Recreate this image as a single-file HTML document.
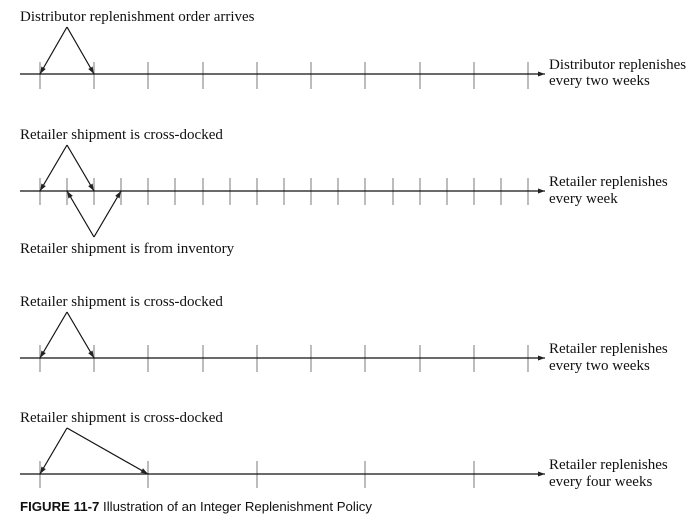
<!DOCTYPE html>
<html><head><style>
body{margin:0;background:#fff;}
svg text{font-family:"Liberation Serif",serif;font-size:15px;fill:#111;}
</style></head><body>
<svg width="693" height="525" xmlns="http://www.w3.org/2000/svg">
<defs>
<marker id="a" viewBox="0 0 10 10" refX="10" refY="5" markerWidth="6" markerHeight="6" orient="auto-start-reverse"><path d="M0,1.5 L10,5 L0,8.5 z" fill="#222"/></marker>
</defs>
<g stroke="#999" stroke-width="1.3">
<path d="M40,62V89M94,62V89M148,62V89M203,62V89M257,62V89M311,62V89M365,62V89M420,62V89M474,62V89M528,62V89"/>
<path d="M40,178V205M67,178V205M94,178V205M121,178V205M148,178V205M175,178V205M203,178V205M230,178V205M257,178V205M284,178V205M311,178V205M338,178V205M365,178V205M393,178V205M420,178V205M447,178V205M474,178V205M501,178V205M528,178V205"/>
<path d="M40,345V372M94,345V372M148,345V372M203,345V372M257,345V372M311,345V372M365,345V372M420,345V372M474,345V372M528,345V372"/>
<path d="M40,461V488M148,461V488M257,461V488M365,461V488M474,461V488"/>
</g>
<g stroke="#111" stroke-width="1.2" fill="none">
<line x1="20" y1="74" x2="545" y2="74" marker-end="url(#a)"/>
<line x1="20" y1="191" x2="545" y2="191" marker-end="url(#a)"/>
<line x1="20" y1="358" x2="545" y2="358" marker-end="url(#a)"/>
<line x1="20" y1="474" x2="545" y2="474" marker-end="url(#a)"/>
<line x1="67" y1="27" x2="40" y2="74" marker-end="url(#a)"/>
<line x1="67" y1="27" x2="94" y2="74" marker-end="url(#a)"/>
<line x1="67" y1="145" x2="40" y2="191" marker-end="url(#a)"/>
<line x1="67" y1="145" x2="94" y2="191" marker-end="url(#a)"/>
<line x1="94" y1="237" x2="67" y2="191" marker-end="url(#a)"/>
<line x1="94" y1="237" x2="121" y2="191" marker-end="url(#a)"/>
<line x1="67" y1="312" x2="40" y2="358" marker-end="url(#a)"/>
<line x1="67" y1="312" x2="94" y2="358" marker-end="url(#a)"/>
<line x1="67" y1="428" x2="40" y2="474" marker-end="url(#a)"/>
<line x1="67" y1="428" x2="148" y2="474" marker-end="url(#a)"/>
</g>
<text x="20" y="21">Distributor replenishment order arrives</text>
<text x="549" y="69">Distributor replenishes</text>
<text x="549" y="85">every two weeks</text>
<text x="20" y="139">Retailer shipment is cross-docked</text>
<text x="549" y="186">Retailer replenishes</text>
<text x="549" y="203">every week</text>
<text x="20" y="253">Retailer shipment is from inventory</text>
<text x="20" y="306">Retailer shipment is cross-docked</text>
<text x="549" y="353">Retailer replenishes</text>
<text x="549" y="370">every two weeks</text>
<text x="20" y="422">Retailer shipment is cross-docked</text>
<text x="549" y="469">Retailer replenishes</text>
<text x="549" y="486">every four weeks</text>
<text x="20" y="511" style="font-family:'Liberation Sans',sans-serif;font-size:13px" textLength="352" lengthAdjust="spacingAndGlyphs"><tspan font-weight="bold">FIGURE 11-7</tspan>   Illustration of an Integer Replenishment Policy</text>
</svg>
</body></html>
